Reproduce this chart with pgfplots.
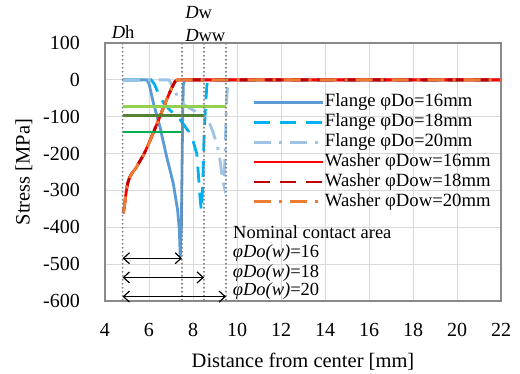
\documentclass[border=0pt]{standalone}
\usepackage{fontspec}
\setmainfont{Liberation Serif}
\usepackage{pgfplots}
\pgfplotsset{compat=1.18}
\usetikzlibrary{arrows.meta}
\definecolor{fA}{RGB}{91,155,213}
\definecolor{fB}{RGB}{0,176,240}
\definecolor{fC}{RGB}{157,195,230}
\definecolor{wA}{RGB}{255,0,0}
\definecolor{wB}{RGB}{192,0,0}
\definecolor{wC}{RGB}{237,125,49}
\definecolor{gA}{RGB}{146,208,80}
\definecolor{gB}{RGB}{84,130,53}
\definecolor{gC}{RGB}{0,176,80}
\definecolor{gridc}{RGB}{217,217,217}
\definecolor{framec}{RGB}{137,137,137}
\definecolor{dotc}{RGB}{127,127,127}
\begin{document}
\begin{tikzpicture}
\begin{axis}[
  scale only axis, width=396bp, height=258bp,
  xmin=4, xmax=22, ymin=-600, ymax=100,
  xtick={4,6,...,22}, ytick={-600,-500,...,100},
  major tick length=0pt,
  grid=major, major grid style={draw=gridc, line width=0.9bp},
  axis line style={draw=framec, line width=1.5bp},
  clip=false,
  /pgf/number format/assume math mode=true,
  ticklabel style={font=\fontsize{20bp}{24bp}\selectfont, inner sep=0pt},
  yticklabel style={anchor=east, xshift=-25bp},
  xticklabel style={anchor=north, yshift=-22bp},
  label style={font=\fontsize{20.5bp}{24bp}\selectfont},
  xlabel={Distance from center [mm]},
  ylabel={Stress [MPa]},
  xlabel style={at={([yshift=-61bp]axis description cs:0.5,0)}, anchor=center},
  ylabel style={at={([xshift=-81bp]axis description cs:0,0.5)}, anchor=center},
  legend cell align=left,
  legend image code/.code={\draw[#1] (0bp,0bp) -- (69bp,0bp);},
  legend style={at={(axis cs:10.73,-38)}, anchor=north west, draw=none, fill=none,
    inner sep=0pt, outer sep=0pt, row sep=2.9bp,
    font=\fontsize{18.7bp}{20bp}\selectfont,
    nodes={inner sep=0pt, text height=13bp, text depth=4bp},
    /tikz/every even column/.append style={column sep=6bp}},
  dotline/.style={dotc, line width=2.1bp, line cap=round, dash pattern=on 0bp off 4bp, forget plot},
]
\addplot[fA, line width=2.8bp] coordinates {(4.8,0)(5.9,0)(6.0,-10)(6.2,-63)(6.5,-128)(6.8,-208)(7.1,-280)(7.3,-353)(7.38,-407)(7.42,-480)(7.47,-400)(7.5,-250)(7.53,-100)(7.56,-15)(7.62,0)(22,0)};
\addlegendentry{Flange φDo=16mm}
\addplot[fB, line width=2.8bp, dash pattern=on 16bp off 10bp] coordinates {(4.8,0)(6.1,0)(6.25,-12)(6.42,-36)(6.7,-66)(7.0,-85)(7.3,-97)(7.5,-115)(7.8,-140)(8.0,-165)(8.17,-200)(8.25,-260)(8.32,-320)(8.38,-355)(8.45,-280)(8.5,-160)(8.57,-70)(8.63,-15)(8.68,0)(22,0)};
\addlegendentry{Flange φDo=18mm}
\addplot[fC, line width=2.8bp, dash pattern=on 17bp off 8bp on 3bp off 8bp] coordinates {(4.8,0)(6.9,0)(7.1,-20)(7.3,-45)(7.6,-68)(8.0,-82)(8.4,-93)(8.7,-110)(8.9,-140)(9.1,-178)(9.25,-225)(9.33,-268)(9.4,-285)(9.46,-200)(9.5,-100)(9.55,-35)(9.6,0)(22,0)};
\addlegendentry{Flange φDo=20mm}
\addplot[wA, line width=2.8bp] coordinates {(4.83,-362)(4.87,-348)(4.92,-325)(4.97,-300)(5.03,-281)(5.12,-264)(5.25,-251)(5.4,-240)(5.59,-220)(5.75,-204)(5.95,-178)(6.2,-143)(6.5,-99)(6.8,-54)(7.03,-22)(7.18,-5)(7.3,0)(8,0)(22,0)};
\addlegendentry{Washer φDow=16mm}
\addplot[wB, line width=2.8bp, dash pattern=on 16bp off 10bp] coordinates {(4.83,-362)(4.87,-348)(4.92,-325)(4.97,-300)(5.03,-281)(5.12,-264)(5.25,-251)(5.4,-240)(5.59,-220)(5.75,-204)(5.95,-178)(6.2,-143)(6.5,-99)(6.8,-54)(7.03,-22)(7.18,-5)(7.3,0)(8,0)(22,0)};
\addlegendentry{Washer φDow=18mm}
\addplot[wC, line width=2.8bp, dash pattern=on 17bp off 8bp on 3bp off 8bp] coordinates {(4.83,-362)(4.87,-348)(4.92,-325)(4.97,-300)(5.03,-281)(5.12,-264)(5.25,-251)(5.4,-240)(5.59,-220)(5.75,-204)(5.95,-178)(6.2,-143)(6.5,-99)(6.8,-54)(7.03,-22)(7.18,-5)(7.3,0)(8,0)(22,0)};
\addlegendentry{Washer φDow=20mm}
% nominal contact lines
\addplot[gA, line width=2.6bp, forget plot] coordinates {(4.8,-72)(9.5,-72)};
\addplot[gB, line width=2.6bp, forget plot] coordinates {(4.8,-96)(8.5,-96)};
\addplot[gC, line width=2.6bp, forget plot] coordinates {(4.8,-142)(7.5,-142)};
% dotted diameter lines
\addplot[dotline] coordinates {(4.8,98)(4.8,-606)};
\addplot[dotline] coordinates {(7.5,98)(7.5,-606)};
\addplot[dotline] coordinates {(8.5,98)(8.5,-606)};
\addplot[dotline] coordinates {(9.5,98)(9.5,-606)};
% arrows
\addplot[black, line width=1.2bp, {Straight Barb[length=6bp,width=11bp]}-{Straight Barb[length=6bp,width=11bp]}, forget plot] coordinates {(4.8,-484)(7.5,-484)};
\addplot[black, line width=1.2bp, {Straight Barb[length=6bp,width=11bp]}-{Straight Barb[length=6bp,width=11bp]}, forget plot] coordinates {(4.8,-536)(8.5,-536)};
\addplot[black, line width=1.2bp, {Straight Barb[length=6bp,width=11bp]}-{Straight Barb[length=6bp,width=11bp]}, forget plot] coordinates {(4.8,-588)(9.5,-588)};
% annotations
\node[anchor=base west, inner sep=0pt, font=\fontsize{18.5bp}{20bp}\selectfont] at (axis cs:4.30,113) {\textit{D}h};
\node[anchor=base west, inner sep=0pt, font=\fontsize{18.5bp}{20bp}\selectfont] at (axis cs:7.64,167) {\textit{D}w};
\node[anchor=base west, inner sep=0pt, font=\fontsize{18.5bp}{20bp}\selectfont] at (axis cs:7.64,104) {\textit{D}ww};
\node[anchor=base west, inner sep=0pt, font=\fontsize{18.5bp}{20bp}\selectfont] at (axis cs:9.82,-430) {Nominal contact area};
\node[anchor=base west, inner sep=0pt, font=\fontsize{18.5bp}{20bp}\selectfont] at (axis cs:9.80,-481) {\textit{φDo(w)}=16};
\node[anchor=base west, inner sep=0pt, font=\fontsize{18.5bp}{20bp}\selectfont] at (axis cs:9.80,-535) {\textit{φDo(w)}=18};
\node[anchor=base west, inner sep=0pt, font=\fontsize{18.5bp}{20bp}\selectfont] at (axis cs:9.80,-586) {\textit{φDo(w)}=20};
\end{axis}
\pgfresetboundingbox
\path[use as bounding box] ([shift={(-105bp,-73bp)}]current axis.south west) rectangle ([shift={(19bp,43bp)}]current axis.north east);
\end{tikzpicture}
\end{document}
